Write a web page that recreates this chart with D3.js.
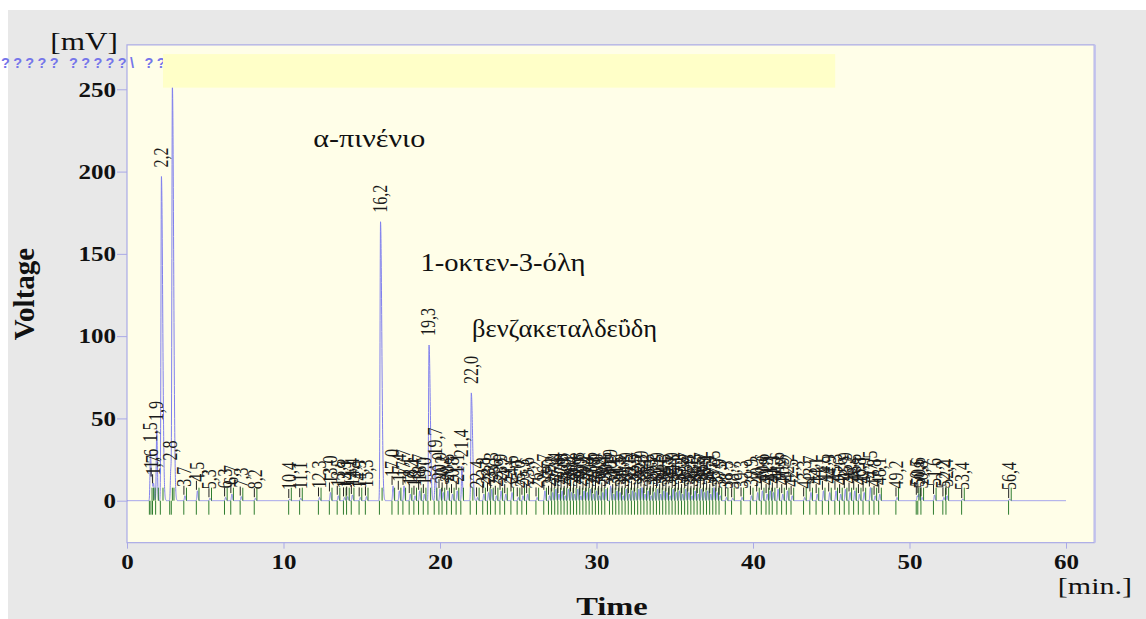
<!DOCTYPE html>
<html><head><meta charset="utf-8">
<script src="https://cdn.jsdelivr.net/npm/d3@7"></script>
<style>body{margin:0;background:#fff}svg{display:block}</style>
</head><body>
<svg id="c" width="1146" height="619"></svg>
<script>
// ---------- data ----------
const xTicks = [0, 10, 20, 30, 40, 50, 60];
const yTicks = [0, 50, 100, 150, 200, 250];
const peakTimes = [1.5,1.6,1.7,1.9,2.2,2.8,2.9,3.7,4.5,5.3,6.3,6.7,7.3,8.2,
 10.4,11.1,12.3,13.0,13.5,13.9,14.1,14.4,14.9,15.3,16.2,
 17.0,17.4,17.7,18.1,18.4,18.7,19.0,19.3,19.7,20.0,20.2,20.5,20.8,21.1,21.4,22.0,22.4,22.8,23.1,23.3,23.6,23.9,24.2,24.6,25.0,25.3,25.6,26.2,26.7,
 27.0,27.2,27.4,27.6,27.8,28.0,28.2,28.4,28.6,28.8,29.0,29.2,29.4,29.6,29.8,30.0,30.2,30.4,30.6,30.9,31.1,31.3,31.5,31.7,31.9,32.1,32.3,32.5,32.7,32.9,
 33.1,33.3,33.5,33.7,33.9,34.1,34.3,34.5,34.7,34.9,35.1,35.3,35.5,35.7,35.9,36.1,36.3,36.5,36.7,36.9,37.1,37.3,37.5,37.7,37.9,38.3,
 38.7,39.3,39.9,40.3,40.6,40.9,41.1,41.3,41.6,41.9,42.2,42.5,43.3,43.7,44.1,44.5,44.9,45.3,45.6,45.9,46.2,46.5,46.8,47.1,47.5,47.8,48.1,
 49.2,50.5,50.6,50.8,51.6,52.2,52.4,53.4,56.4];
const peakHeights = [30,14,10,43,197,19,252,3,6,1.5,2,4,2.5,1.5,
 1,1.5,2,5,3,2,2.5,3.5,2,2.5,169.5,
 9,6,9,4,3,6,4,94.6,22,7,5,6,4,6,21,65.5,2,4,5,7,3,6,4,5,2,3,4,2,6,
 3,5,7,4,6,3,7,5,4,7,3,6,5,7,4,6,3,5,7,9,4,6,5,3,7,4,6,5,7,8,
 4,6,3,5,7,4,6,5,3,7,5,6,4,7,5,3,6,4,7,5,6,4,8,5,3,2,
 1.5,2,3,5,6,4,6,5,7,4,6,3,2,5,4,6,5,6,4,7,5,6,4,5,8,3,4,
 2,3,4,2,3.5,2,3,1,1];
const annotationTexts = ["α-πινένιο", "1-οκτεν-3-όλη", "βενζακεταλδεΰδη"];
const annotationTimes = [11.9, 18.75, 22.05];
const annotationValues = [215, 139.5, 99.5];
const headerText = "????? ?????\\ ??";
const yUnit = "[mV]", xUnit = "[min.]", yTitle = "Voltage", xTitle = "Time";
const plotTime = [0, 61.8];
const plotVolt = [-25.5, 277];
const headerTime = [2.3, 45.25];
const headerVolt = [251, 271.4];

// ---------- style ----------
const annotationWidths = [112, 165, 185]; // rendered widths in px
const SX = 1.25; // horizontal glyph stretch of the original rendering
const serif = "'Liberation Serif','Times New Roman',serif";

// ---------- setup ----------
const svg = d3.select("#c");
const x = d3.scaleLinear().domain([0, 60]).range([127, 1066]);
const y = d3.scaleLinear().domain([0, 250]).range([500.7, 89.3]);

svg.append("rect").attr("x", 8).attr("y", 10).attr("width", 1138).attr("height", 609).attr("fill", "#e8e8e8");

const px0 = x(plotTime[0]), px1 = x(plotTime[1]), py0 = y(plotVolt[1]), py1 = y(plotVolt[0]);
svg.append("rect").attr("x", px0).attr("y", py0).attr("width", px1 - px0).attr("height", py1 - py0)
  .attr("fill", "#fffee8").attr("stroke", "#aaaae6").attr("stroke-width", 1.2);
svg.append("line").attr("x1", px1 + 1).attr("x2", px1 + 1).attr("y1", py0).attr("y2", py1)
  .attr("stroke", "#c4c4ee").attr("stroke-width", 1.5);

svg.append("defs").append("clipPath").attr("id", "clip").append("rect")
  .attr("x", px0).attr("y", py0).attr("width", px1 - px0).attr("height", py1 - py0);

// ---------- axes ----------
const xAx = svg.append("g").attr("transform", `translate(0,${py1})`)
  .call(d3.axisBottom(x).tickValues(xTicks).tickSize(6).tickFormat(d3.format("d")));
xAx.select(".domain").remove();
xAx.selectAll("line").attr("stroke", "#aaaae6");
xAx.selectAll("text").attr("y", 12.5).attr("dy", "0.71em").attr("transform", `scale(${SX},1)`)
  .style("font-family", serif).style("font-weight", "bold").style("font-size", "20px").attr("fill", "#111");

const yAx = svg.append("g").attr("transform", `translate(${px0},0)`)
  .call(d3.axisLeft(y).tickValues(yTicks).tickSize(10).tickFormat(d3.format("d")));
yAx.select(".domain").remove();
yAx.selectAll("line").attr("stroke", "#aaaae6");
yAx.selectAll("text").attr("x", -11 / SX).attr("dy", "0.34em").attr("transform", `scale(${SX},1)`)
  .style("font-family", serif).style("font-weight", "bold").style("font-size", "20px").attr("fill", "#111");

// ---------- trace ----------
const y0 = y(0);
const trace = [];
for (let t = 0; t <= 60.0001; t += 0.004) {
  let v = 0;
  for (let i = 0; i < peakTimes.length; i++) {
    const d = t - peakTimes[i];
    if (Math.abs(d) > 1.2) continue;
    const s = d < 0 ? 0.03 : (peakHeights[i] > 50 ? 0.08 : 0.04);
    v += peakHeights[i] * Math.exp(-0.5 * (d / s) * (d / s));
  }
  trace.push([t, v]);
}
svg.append("path").attr("clip-path", "url(#clip)").datum(trace)
  .attr("d", d3.line().x(d => x(d[0])).y(d => y(d[1])))
  .attr("fill", "none").attr("stroke", "#8080ee").attr("stroke-width", 1);

// ---------- markers ----------
const marks = svg.append("g").attr("clip-path", "url(#clip)");
peakTimes.forEach((t, i) => {
  marks.append("line").attr("x1", x(t - 0.07)).attr("x2", x(t - 0.07)).attr("y1", y0).attr("y2", y0 + 14)
    .attr("stroke", "#2f7d2f").attr("stroke-width", 1);
  marks.append("line").attr("x1", x(t + 0.1)).attr("x2", x(t + 0.1)).attr("y1", y0 - 13).attr("y2", y0)
    .attr("stroke", "#2f7d2f").attr("stroke-width", 1);
  if (peakHeights[i] < 15) {
    marks.append("line").attr("x1", x(t) - 1).attr("x2", x(t) - 1).attr("y1", y(peakHeights[i]) - 1).attr("y2", y(peakHeights[i]) - 10)
      .attr("stroke", "#222").attr("stroke-width", 1);
  }
});

// ---------- peak labels ----------
const fmt = t => d3.format(".1f")(t).replace(".", ",");
const lab = svg.append("g");
peakTimes.forEach((t, i) => {
  lab.append("text")
    .attr("transform", `translate(${x(t) - 1},${y(peakHeights[i]) - 9}) scale(1.3,1) rotate(-90)`)
    .attr("dominant-baseline", "central")
    .style("font-family", serif).style("font-size", "16px").attr("fill", "#1a1a1a")
    .text(fmt(t));
});

// ---------- annotations ----------
annotationTexts.forEach((s, i) => {
  svg.append("text").attr("x", x(annotationTimes[i])).attr("y", y(annotationValues[i]))
    .attr("textLength", annotationWidths[i]).attr("lengthAdjust", "spacingAndGlyphs")
    .style("font-family", serif).style("font-size", "24.5px").attr("fill", "#111").text(s);
});

// ---------- header ----------
svg.append("text").attr("x", 1).attr("y", 68).text(headerText)
  .style("font-family", "'Liberation Sans',Arial,sans-serif").style("font-size", "14.5px")
  .style("letter-spacing", "3.3px").style("font-weight", "bold").attr("fill", "#7575ea");
svg.append("rect").attr("x", x(headerTime[0])).attr("y", y(headerVolt[1]))
  .attr("width", x(headerTime[1]) - x(headerTime[0])).attr("height", y(headerVolt[0]) - y(headerVolt[1]))
  .attr("fill", "#ffffc8");

// ---------- titles ----------
svg.append("text").attr("transform", `translate(118,50) scale(${SX},1)`).attr("text-anchor", "end")
  .style("font-family", serif).style("font-size", "25px").attr("fill", "#111").text(yUnit);
svg.append("text").attr("transform", `translate(1132,594) scale(${SX},1)`).attr("text-anchor", "end")
  .style("font-family", serif).style("font-size", "24px").attr("fill", "#111").text(xUnit);
svg.append("text").attr("transform", `translate(612,615) scale(${SX},1)`).attr("text-anchor", "middle")
  .style("font-family", serif).style("font-weight", "bold").style("font-size", "26px").attr("fill", "#111").text(xTitle);
svg.append("text").attr("transform", `translate(34,294) rotate(-90)`).attr("text-anchor", "middle")
  .style("font-family", serif).style("font-weight", "bold").style("font-size", "29px").attr("fill", "#111").text(yTitle);
</script>
</body></html>
